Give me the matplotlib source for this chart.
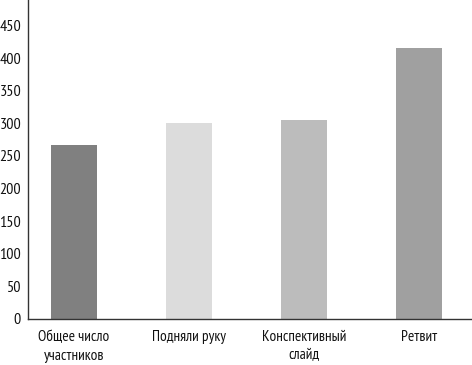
import matplotlib
matplotlib.use("Agg")
import matplotlib.pyplot as plt
from matplotlib import font_manager

categories = ["Общее число\nучастников", "Подняли руку", "Конспективный\nслайд", "Ретвит"]
values = [267, 300, 305, 415]
colors = ["#808080", "#dcdcdc", "#bcbcbc", "#a0a0a0"]
yticks = [0, 50, 100, 150, 200, 250, 300, 350, 400, 450]

names = {f.name for f in font_manager.fontManager.ttflist}
cands = ["PT Sans Narrow", "Roboto Condensed", "Liberation Sans Narrow", "DejaVu Sans"]
fam = [n for n in cands if n in names][:1] + ["DejaVu Sans"]
plt.rcParams['font.family'] = fam

W, H = 472, 365
fig = plt.figure(figsize=(W/100, H/100), dpi=100)
ax = fig.add_axes([28/W, (H-319)/H, 1-28/W, 319/H])

x = list(range(len(categories)))
ax.bar(x, values, width=0.4, color=colors, edgecolor="none")
ax.set_xlim(-0.4, 3.46)
ax.set_ylim(0, 489)
ax.set_yticks(yticks)
ax.set_yticklabels([str(v) for v in yticks], fontsize=11.5)
ax.set_xticks(x)
ax.set_xticklabels(categories, fontsize=11, linespacing=1.4)
ax.tick_params(axis='both', length=0, colors="#111111")
ax.tick_params(axis='y', pad=5)
ax.tick_params(axis='x', pad=8)
for s in ["top", "right"]:
    ax.spines[s].set_visible(False)
for s in ["left", "bottom"]:
    ax.spines[s].set_color("#333333")
    ax.spines[s].set_linewidth(1.0)

fig.savefig("out.png", dpi=100)
